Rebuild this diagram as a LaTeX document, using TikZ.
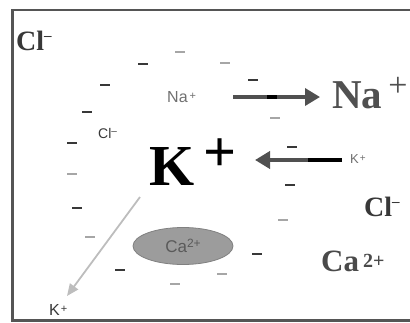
\documentclass[tikz,border=0pt]{standalone}
\usepackage{fontspec}
\setmainfont{Liberation Serif}
\setsansfont{Liberation Sans}
\usetikzlibrary{arrows.meta,shapes.geometric}
\definecolor{boxgray}{HTML}{555555}
\definecolor{nagray}{HTML}{505050}
\definecolor{clgray}{HTML}{383838}
\definecolor{cagray}{HTML}{4A4A4A}
\definecolor{smallgray}{HTML}{707070}
\definecolor{ellfill}{HTML}{9C9C9C}
\definecolor{elldraw}{HTML}{808080}
\definecolor{lightarrow}{HTML}{BDBDBD}
\begin{document}
\begin{tikzpicture}[x=1pt,y=-1pt,
  negdash/.style={line width=1.5pt,draw=clgray},
  negdashlight/.style={line width=1.3pt,draw=gray!70},
  bigion/.style={anchor=base west,inner sep=0pt,font=\bfseries},
  smallion/.style={anchor=base west,inner sep=0pt,font=\sffamily,text=smallgray},
  thickarrow/.style={draw=nagray,line width=3.5pt,-{Triangle[length=15pt,width=17pt]}},
  lightarr/.style={draw=lightarrow,line width=1.8pt,-{Triangle[length=12pt,width=10pt]}}]
\useasboundingbox (0,0) rectangle (410,322);
% frame
\draw[boxgray,line width=2.5pt] (412,10) -- (12.5,10) -- (12.5,320.5) -- (412,320.5);
% big ions
\node[bigion,text=clgray] (clA) at (16,50) {\fontsize{28}{30}\selectfont Cl\raisebox{10pt}{\fontsize{15}{15}\selectfont –}};
\node[bigion,text=clgray] (clB) at (364,216) {\fontsize{28}{30}\selectfont Cl\raisebox{10pt}{\fontsize{15}{15}\selectfont –}};
\node[bigion,text=cagray] (caR) at (321,271) {\fontsize{31}{33}\selectfont Ca\hspace{4pt}\raisebox{4pt}{\fontsize{20}{20}\selectfont 2+}};
\node[bigion,text=black] (kbig) at (149,185) {\fontsize{58}{60}\selectfont K\hspace{9pt}\raisebox{14pt}{+}};
\node[bigion,text=nagray] (nabig) at (332,108) {\fontsize{41}{43}\selectfont Na\hspace{6pt}\raisebox{12pt}{\mdseries\fontsize{34}{34}\selectfont +}};
% small ions
\node[smallion] (nasmall) at (167,102) {\fontsize{16}{16}\selectfont Na\hspace{2pt}\raisebox{3pt}{\fontsize{11}{11}\selectfont +}};
\node[smallion,text=clgray] (clsmall) at (98,138) {\fontsize{14}{14}\selectfont Cl\raisebox{4pt}{\fontsize{10}{10}\selectfont –}};
\node[smallion] (ksmall) at (350,163) {\fontsize{13}{13}\selectfont K\hspace{1pt}\raisebox{2pt}{\fontsize{10}{10}\selectfont +}};
\node[smallion,text=clgray] (kout) at (49,315) {\fontsize{16}{16}\selectfont K\hspace{1pt}\raisebox{3pt}{\fontsize{11}{11}\selectfont +}};
% calcium blob
\node[ellipse,minimum width=100pt,minimum height=37pt,fill=ellfill,draw=elldraw,line width=0.8pt,inner sep=0pt] (caE) at (183,246)
  {\sffamily\fontsize{17}{17}\selectfont\color{smallgray!80!black}Ca\raisebox{5pt}{\fontsize{12}{12}\selectfont 2+}};
% arrows
\coordinate (naS) at (233,97);
\coordinate (naE) at (320,97);
\draw[thickarrow] (naS) -- (naE);
\draw[black,line width=3.5pt] (267,97) -- (277,97);
\coordinate (kS) at (342,160);
\coordinate (kE) at (255,160);
\draw[thickarrow,line width=4pt] (kS) -- (kE);
\draw[black,line width=4pt] (308,160) -- (342,160);
\coordinate (gS) at (140,197);
\coordinate (gE) at (67,296);
\draw[lightarr] (gS) -- (gE);
% negative charges
\foreach \x/\y in {143/64,105/85,87/112,72/143,253/80,292/147,77/208,120/270,290/185,257/254}
  \draw[negdash] (\x-5,\y) -- (\x+5,\y);
\foreach \x/\y in {180/52,225/63,275/118,72/174,90/237,175/284,283/220,222/274}
  \draw[negdashlight] (\x-5,\y) -- (\x+5,\y);
\end{tikzpicture}
\end{document}
